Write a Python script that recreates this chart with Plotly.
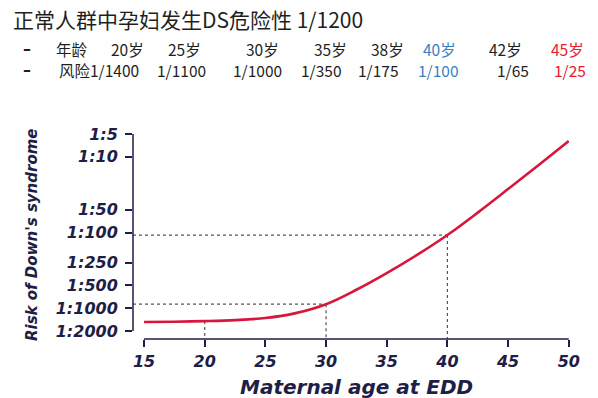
import math
import plotly.graph_objects as go

# ---------------- data ----------------
ages = [15, 17.5, 20, 22.5, 25, 27.5, 30, 32.5, 35, 37.5, 40, 42.5, 45, 47.5, 50]
risk_denominator = [1524, 1507, 1479, 1435, 1349, 1161, 885, 571, 344, 198, 108, 54.6, 26.7, 12.9, 6.2]

ytick_denoms = [5, 10, 50, 100, 250, 500, 1000, 2000]
ytick_labels = ["1:5", "1:10", "1:50", "1:100", "1:250", "1:500", "1:1000", "1:2000"]
xtick_vals = [15, 20, 25, 30, 35, 40, 45, 50]

guide_ages_vertical = [20, 30, 40]
guide_ages_horizontal = [30, 40]

title_text = "正常人群中孕妇发生DS危险性 1/1200"
age_row_label = "年龄"
age_row = ["20岁", "25岁", "30岁", "35岁", "38岁", "40岁", "42岁", "45岁"]
risk_row_label = "风险"
risk_row = ["1/1400", "1/1100", "1/1000", "1/350", "1/175", "1/100", "1/65", "1/25"]
highlight = {5: "#3b7fc4", 7: "#e8202c"}

# ---------------- layout geometry ----------------
W, H = 598, 398
L, R, T, B = 133, 569, 134, 339
navy = "#1e1e46"
xr = [14.09, 50.02]
y_top = math.log10(1 / 5)
y_bot = math.log10(1 / 2000) - 8 / 75.7
yr = [y_bot, y_top]

probs = [1 / d for d in risk_denominator]


def curve_at(a):
    for i in range(len(ages) - 1):
        if ages[i] <= a <= ages[i + 1]:
            t = (a - ages[i]) / (ages[i + 1] - ages[i])
            lv = math.log10(probs[i]) * (1 - t) + math.log10(probs[i + 1]) * t
            return 10 ** lv
    return probs[-1]


def px_x(px):
    return (px - L) / (R - L)


def px_y(py):
    return (B - py) / (B - T)


fig = go.Figure()

# dotted guide lines
gx, gy = [], []
bottom_val = 10 ** y_bot
for a in guide_ages_horizontal:
    v = curve_at(a)
    gx += [xr[0], a, None]
    gy += [v, v, None]
for a in guide_ages_vertical:
    v = curve_at(a)
    gx += [a, a, None]
    gy += [v, bottom_val, None]
fig.add_trace(go.Scatter(x=gx, y=gy, mode="lines",
                         line=dict(color="#555555", width=1.2, dash="dot"),
                         hoverinfo="skip", showlegend=False))

# risk curve
fig.add_trace(go.Scatter(x=ages, y=probs, mode="lines",
                         line=dict(color="#d8163c", width=2.6, shape="spline", smoothing=1),
                         showlegend=False))

tick_font = dict(family="DejaVu Sans", size=16, color=navy, weight="bold", style="italic")

fig.update_layout(
    width=W, height=H,
    margin=dict(l=L, r=W - R, t=T, b=H - B, pad=0, autoexpand=False),
    paper_bgcolor="white", plot_bgcolor="white",
    xaxis=dict(range=xr, tickvals=xtick_vals, ticks="outside", ticklen=7,
               tickwidth=1.5, tickcolor=navy, showgrid=False, zeroline=False,
               showline=False, tickfont=tick_font, ticklabelstandoff=1, automargin=False),
    yaxis=dict(type="log", range=yr, tickvals=[1 / d for d in ytick_denoms],
               ticktext=ytick_labels, ticks="outside", ticklen=7, tickwidth=1.5,
               tickcolor=navy, showgrid=False, zeroline=False, showline=False,
               tickfont=tick_font, ticklabelstandoff=4, automargin=False),
)

# detached axis lines (span only the tick range)
x15 = (xtick_vals[0] - xr[0]) / (xr[1] - xr[0])
x50 = (xtick_vals[-1] - xr[0]) / (xr[1] - xr[0])
y2000 = (math.log10(1 / ytick_denoms[-1]) - yr[0]) / (yr[1] - yr[0])
y5 = (math.log10(1 / ytick_denoms[0]) - yr[0]) / (yr[1] - yr[0])
fig.add_shape(type="line", xref="paper", yref="paper", x0=x15, x1=x50, y0=0, y1=0,
              line=dict(color=navy, width=1.5))
fig.add_shape(type="line", xref="paper", yref="paper", x0=0, x1=0, y0=y2000, y1=y5,
              line=dict(color=navy, width=1.5))

# axis titles
fig.add_annotation(text="Maternal age at EDD", xref="paper", yref="paper",
                   x=px_x(356), y=px_y(387), showarrow=False, xanchor="center", yanchor="middle",
                   font=dict(family="DejaVu Sans", size=20, color=navy, weight="bold", style="italic"))
fig.add_annotation(text="Risk of Down's syndrome", xref="paper", yref="paper",
                   x=px_x(32), y=px_y(235), showarrow=False, textangle=-90,
                   xanchor="center", yanchor="middle",
                   font=dict(family="DejaVu Sans", size=15, color=navy, weight="bold", style="italic"))

# header text
cjk = "Noto Sans CJK SC"
txt_col = "#1f1f1f"
fig.add_annotation(text=title_text, xref="paper", yref="paper", x=px_x(12), y=px_y(19),
                   showarrow=False, xanchor="left", yanchor="middle", borderpad=0,
                   font=dict(family=cjk, size=21, color=txt_col))

age_right = [145, 202, 280, 348, 405, 457, 523, 585]
risk_right = [140, 207, 283, 343, 400, 460, 530, 587]
row_y = [49, 70]
row_size = 15.5
# the two bullet dashes as one two-line text
fig.add_annotation(text="–<br>–", xref="paper", yref="paper", x=px_x(27),
                   y=px_y((row_y[0] + row_y[1]) / 2),
                   showarrow=False, xanchor="center", yanchor="middle", borderpad=0,
                   font=dict(family="DejaVu Sans", size=16, color=txt_col, weight="bold"))
fig.add_annotation(text=age_row_label, xref="paper", yref="paper", x=px_x(55), y=px_y(row_y[0]),
                   showarrow=False, xanchor="left", yanchor="middle", borderpad=0,
                   font=dict(family=cjk, size=row_size, color=txt_col))
for i, (t, rx) in enumerate(zip(age_row, age_right)):
    fig.add_annotation(text=t, xref="paper", yref="paper", x=px_x(rx), y=px_y(row_y[0]),
                       showarrow=False, xanchor="right", yanchor="middle", borderpad=0,
                       font=dict(family=cjk, size=row_size, color=highlight.get(i, txt_col)))
for i, (t, rx) in enumerate(zip(risk_row, risk_right)):
    label = (risk_row_label + t) if i == 0 else t
    fig.add_annotation(text=label, xref="paper", yref="paper", x=px_x(rx), y=px_y(row_y[1]),
                       showarrow=False, xanchor="right", yanchor="middle", borderpad=0,
                       font=dict(family=cjk, size=row_size, color=highlight.get(i, txt_col)))

fig.write_html("out.html", config={"displayModeBar": False},
               post_script="document.body.style.margin='0';")
